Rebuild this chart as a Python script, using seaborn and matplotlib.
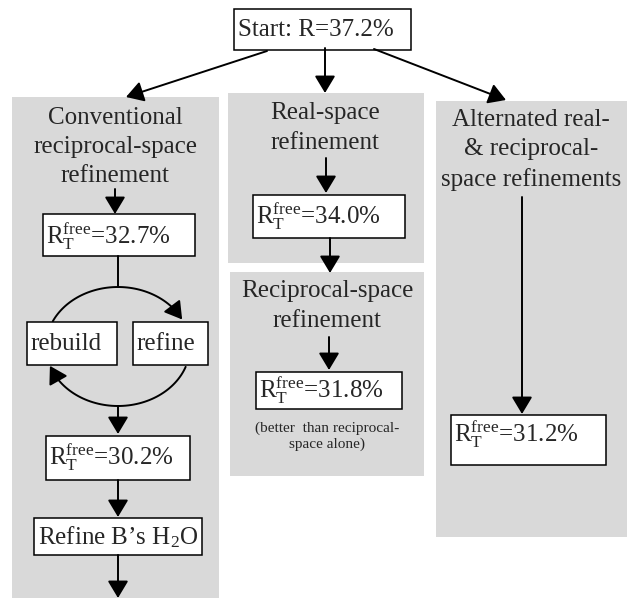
import numpy as np
import seaborn as sns
import matplotlib.pyplot as plt
from matplotlib.patches import Rectangle

# Data
start_r = 37.2
panel_titles = ['Conventional\nreciprocal-space\nrefinement',
                'Real-space\nrefinement',
                'Reciprocal-space\nrefinement',
                'Alternated real-\n& reciprocal-\nspace refinements']
r_free = [32.7, 30.2, 34.0, 31.8, 31.2]
cycle_steps = ['rebuild', 'refine']
final_step = 'Refine B\u2019s H$_2$O'
note = '(better  than reciprocal-\nspace alone)'

sns.set_style('white')
plt.rcParams['font.family'] = ['Liberation Serif', 'DejaVu Serif']
plt.rcParams['mathtext.fontset'] = 'custom'
plt.rcParams['mathtext.rm'] = 'Liberation Serif'
plt.rcParams['mathtext.it'] = 'Liberation Serif:italic'

fig = plt.figure(figsize=(6.27, 5.98), dpi=100)
ax = fig.add_axes([0, 0, 1, 1])
ax.set_xlim(0, 627)
ax.set_ylim(598, 0)
ax.axis('off')

GRAY = '#d9d9d9'
FS = 18
LS = 1.42
HEAD = '-|>,head_length=0.75,head_width=0.45'


def panel(x0, y0, x1, y1):
    ax.add_patch(Rectangle((x0, y0), x1 - x0, y1 - y0, facecolor=GRAY, edgecolor='none', zorder=0))


def box(x0, y0, x1, y1):
    ax.add_patch(Rectangle((x0, y0), x1 - x0, y1 - y0, facecolor='white', edgecolor='black', lw=1.1, zorder=2))


def arrow(x0, y0, x1, y1):
    ax.annotate('', xy=(x1, y1), xytext=(x0, y0),
                arrowprops=dict(arrowstyle=HEAD, mutation_scale=14,
                                color='black', lw=1.4, shrinkA=0, shrinkB=0), zorder=3)


def rlabel(val):
    return r'R$_{\mathrm{T}}^{\mathrm{free}}$=' + f'{val:.1f}%'


# panels
panel(12, 97, 219, 598)
panel(228, 93, 424, 263)
panel(230, 272, 424, 476)
panel(436, 101, 627, 537)

# start box
box(234, 9, 411, 50)
ax.text(316, 30, f'Start: R={start_r}%', fontsize=FS, ha='center', va='center', zorder=4)
arrow(267, 51, 126, 97)
arrow(325, 48, 325, 93)
arrow(374, 49, 506, 100)

# titles
ax.text(115, 147, panel_titles[0], fontsize=FS, ha='center', va='center', linespacing=LS)
ax.text(325, 128, panel_titles[1], fontsize=FS, ha='center', va='center', linespacing=LS)
ax.text(327, 306, panel_titles[2], fontsize=FS, ha='center', va='center', linespacing=LS)
ax.text(531, 150, panel_titles[3], fontsize=FS, ha='center', va='center', linespacing=LS)

# left column
arrow(115, 189, 115, 214)
box(43, 214, 195, 256)
ax.text(46, 236, rlabel(r_free[0]), fontsize=FS, ha='left', va='center', zorder=4)
ax.plot([118, 118], [256, 287], color='black', lw=1.4)

cx, cy, rx, ry = 118, 346.5, 72, 59.5


def ell(a):
    a = np.radians(a)
    return cx + rx * np.cos(a), cy - ry * np.sin(a)


t = np.linspace(155, 36, 60)
ax.plot(*ell(t), color='black', lw=1.4)
ax.annotate('', xy=ell(27), xytext=ell(37),
            arrowprops=dict(arrowstyle=HEAD, mutation_scale=14,
                            color='black', lw=1.4, shrinkA=0, shrinkB=0))
t = np.linspace(-20, -150, 60)
ax.plot(*ell(t), color='black', lw=1.4)
ax.annotate('', xy=ell(-161), xytext=ell(-149),
            arrowprops=dict(arrowstyle=HEAD, mutation_scale=14,
                            color='black', lw=1.4, shrinkA=0, shrinkB=0))

box(27, 322, 117, 365)
ax.text(30, 344, cycle_steps[0], fontsize=FS, ha='left', va='center', zorder=4)
box(133, 322, 208, 365)
ax.text(136, 344, cycle_steps[1], fontsize=FS, ha='left', va='center', zorder=4)

arrow(118, 406, 118, 434)
box(46, 436, 190, 480)
ax.text(49, 457, rlabel(r_free[1]), fontsize=FS, ha='left', va='center', zorder=4)
arrow(118, 480, 118, 517)
box(34, 518, 202, 555)
ax.text(118, 537, final_step, fontsize=FS, ha='center', va='center', zorder=4)
arrow(118, 555, 118, 598)

# middle column
arrow(326, 158, 326, 193)
box(253, 195, 405, 238)
ax.text(256, 216, rlabel(r_free[2]), fontsize=FS, ha='left', va='center', zorder=4)
arrow(330, 238, 330, 273)
arrow(329, 337, 329, 370)
box(256, 372, 402, 409)
ax.text(259, 390, rlabel(r_free[3]), fontsize=FS, ha='left', va='center', zorder=4)
ax.text(327, 436, note, fontsize=11, ha='center', va='center', linespacing=1.25)

# right column
arrow(522, 197, 522, 414)
box(451, 415, 606, 465)
ax.text(454, 434, rlabel(r_free[4]), fontsize=FS, ha='left', va='center', zorder=4)

plt.savefig('out.png', dpi=100)
